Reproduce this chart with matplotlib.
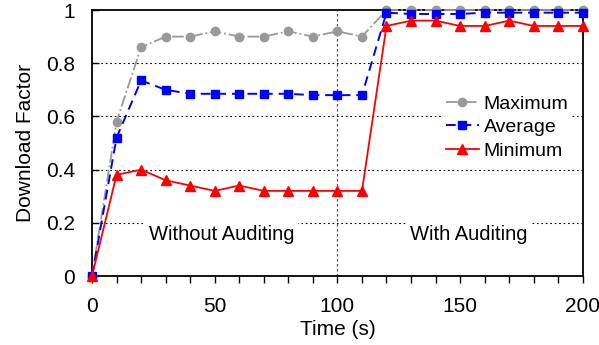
# Download factor over time, with and without auditing
import matplotlib
matplotlib.use('Agg')
import matplotlib.pyplot as plt
import numpy as np

plt.rcParams['font.family'] = ['Liberation Sans', 'DejaVu Sans']

# Data
time_s = [0, 10, 20, 30, 40, 50, 60, 70, 80, 90, 100,
          110, 120, 130, 140, 150, 160, 170, 180, 190, 200]
maximum = [0.0, 0.58, 0.86, 0.90, 0.90, 0.92, 0.90, 0.90, 0.92, 0.90, 0.92,
           0.90, 1.0, 1.0, 1.0, 1.0, 1.0, 1.0, 1.0, 1.0, 1.0]
average = [0.0, 0.52, 0.735, 0.70, 0.685, 0.685, 0.685, 0.685, 0.685, 0.68, 0.68,
           0.68, 0.99, 0.985, 0.985, 0.985, 0.99, 0.99, 0.99, 0.99, 0.99]
minimum = [0.0, 0.38, 0.40, 0.36, 0.34, 0.32, 0.34, 0.32, 0.32, 0.32, 0.32,
           0.32, 0.94, 0.96, 0.96, 0.94, 0.94, 0.96, 0.94, 0.94, 0.94]
y_ticks = [0, 0.2, 0.4, 0.6, 0.8, 1]
y_tick_labels = ['0', '0.2', '0.4', '0.6', '0.8', '1']
x_ticks = [0, 50, 100, 150, 200]


def main():
    fig = plt.figure(figsize=(5.99, 3.45), dpi=100)
    ax = fig.add_axes([0.1536, 0.2, 0.8194, 0.771])

    for y in y_ticks[1:-1]:
        ax.axhline(y, color='black', linestyle=(0, (1.5, 2.5)), linewidth=0.8, zorder=1)
    ax.axvline(100, color='#555555', linestyle=(0, (2, 2)), linewidth=0.9, zorder=1)

    ax.plot(time_s, maximum, color='#999999', linestyle='-.', marker='o',
            markersize=6, linewidth=1.3, label='Maximum', clip_on=False, zorder=3)
    ax.plot(time_s, average, color='#0000ff', linestyle=(0, (5, 3)), marker='s',
            markersize=6, linewidth=1.4, label='Average', clip_on=False, zorder=4)
    ax.plot(time_s, minimum, color='#ff0000', linestyle='-', marker='^',
            markersize=7.5, linewidth=1.3, label='Minimum', clip_on=False, zorder=5)

    box = dict(facecolor='white', edgecolor='none', pad=3)
    ax.text(52.7, 0.155, 'Without Auditing', fontsize=14.5, ha='center', va='center',
            bbox=box, zorder=2)
    ax.text(153.6, 0.155, 'With Auditing', fontsize=14.5, ha='center', va='center',
            bbox=box, zorder=2)

    ax.set_xlim(0, 200)
    ax.set_ylim(0, 1)
    ax.set_xticks(x_ticks)
    ax.set_xticks(np.arange(0, 201, 10), minor=True)
    ax.set_yticks(y_ticks)
    ax.set_yticklabels(y_tick_labels)
    ax.tick_params(axis='x', which='both', direction='out', length=5, width=1,
                   labelsize=15, pad=10)
    ax.tick_params(axis='y', direction='in', length=5, width=1, labelsize=15, pad=12)
    for sp in ax.spines.values():
        sp.set_linewidth(1.3)

    ax.set_xlabel('Time (s)', fontsize=15, labelpad=3)
    ax.set_ylabel('Download Factor', fontsize=15, labelpad=8)

    leg = ax.legend(loc='upper left', bbox_to_anchor=(0.713, 0.695), fontsize=14,
                    frameon=True, framealpha=1, edgecolor='none', fancybox=False,
                    handlelength=1.7, handletextpad=0.25, labelspacing=0.3,
                    borderpad=0.2, borderaxespad=0)
    leg.set_zorder(6)

    fig.savefig('out.png', dpi=100)


if __name__ == "__main__":
    main()
